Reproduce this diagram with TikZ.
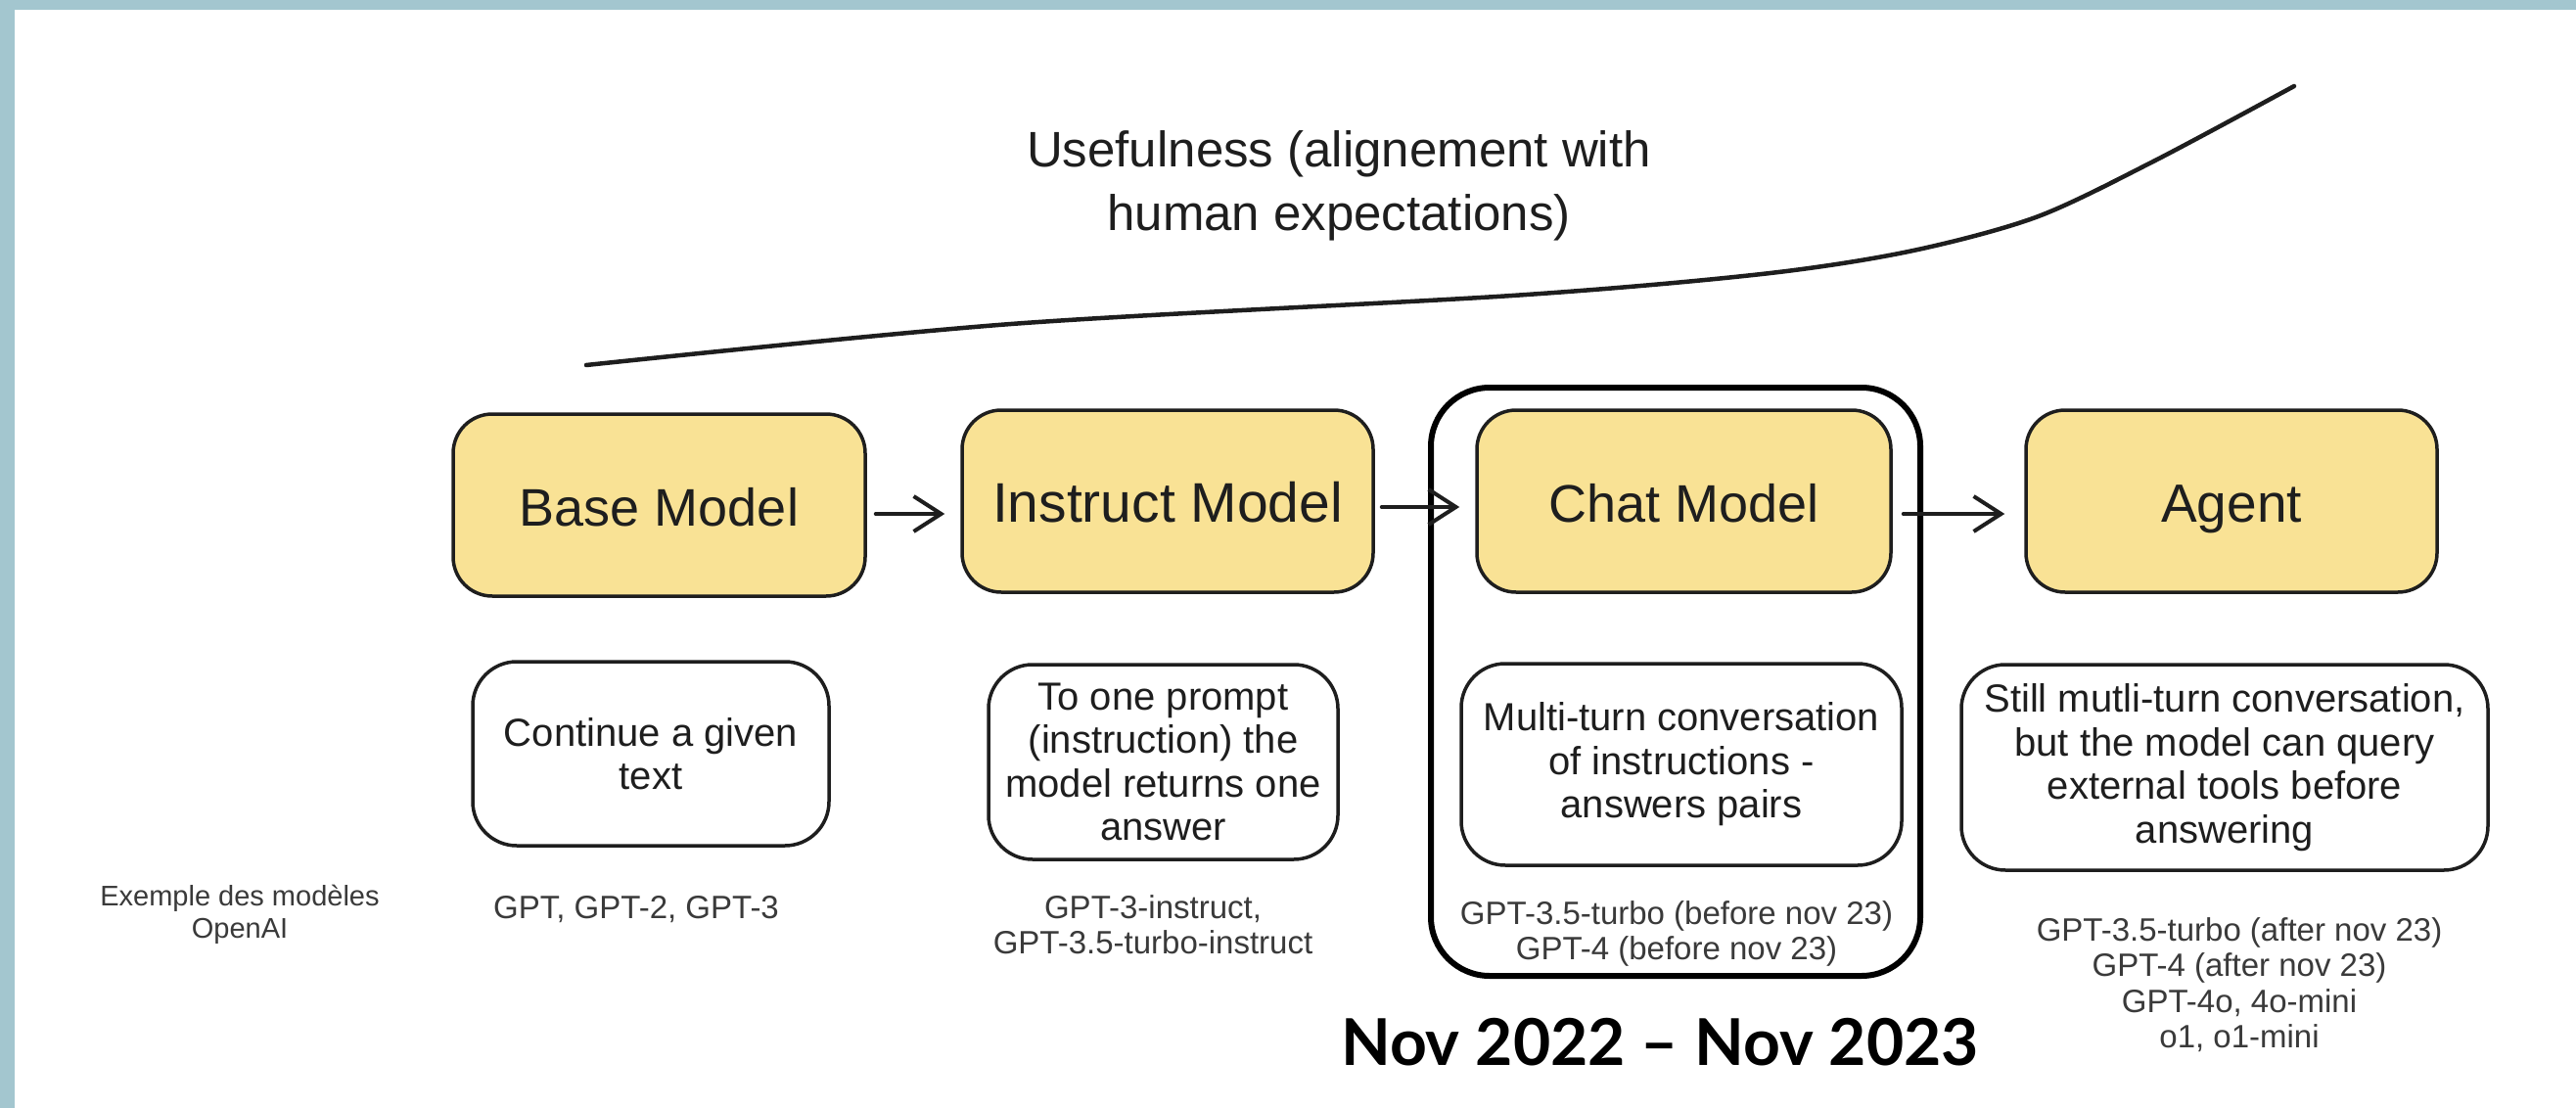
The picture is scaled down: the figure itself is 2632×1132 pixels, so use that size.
\documentclass[tikz,border=0pt]{standalone}
\usepackage{fontspec}
\setmainfont{Liberation Sans}
\newfontfamily\datefont{Lato}
\usetikzlibrary{arrows.meta}
\definecolor{frameblue}{HTML}{A3C6CF}
\definecolor{ink}{HTML}{1E1E1E}
\definecolor{boxyellow}{HTML}{F9E295}
\definecolor{listgray}{HTML}{3A3A3A}
\begin{document}
\begin{tikzpicture}[x=1pt,y=-1pt,
  ybox/.style={draw=ink, line width=3.5pt, fill=boxyellow, rounded corners=40pt,
    minimum width=420pt, minimum height=186pt, inner sep=0pt,
    font=\fontsize{54}{60}\selectfont, text=ink, text height=42pt, text depth=0pt},
  dbox/.style={draw=ink, line width=3.5pt, fill=white, rounded corners=45pt,
    inner sep=0pt, align=center, font=\fontsize{40}{44.5}\selectfont, text=ink},
  listtext/.style={inner sep=0pt, align=center, text=listgray,
    font=\fontsize{33}{36.5}\selectfont},
  smalltext/.style={inner sep=0pt, align=center, text=listgray,
    font=\fontsize{29}{33}\selectfont},
  arr/.style={draw=ink, line width=4pt, line cap=round, line join=round,
    -{Straight Barb[length=28pt,width=36pt,line width=4pt]}},
  groupframe/.style={draw=black, line width=6pt, rounded corners=60pt,
    minimum width=500pt, minimum height=601pt, inner sep=0pt}
]
\useasboundingbox (0,0) rectangle (2632,1132);
\fill[white] (0,0) rectangle (2632,1132);
\fill[frameblue] (0,0) rectangle (2632,10);
\fill[frameblue] (0,0) rectangle (15,1132);

% usefulness curve
\draw[ink, line width=4.5pt, line cap=round]
  plot[smooth, tension=0.5] coordinates {(599,373) (1033,331) (1545,302) (1800,280) (1950,257) (2080,222) (2200,165) (2344,88)};
\node (title) [inner sep=0pt, align=center, text=ink, font=\fontsize{51}{65}\selectfont]
  at (1368,189.5) {Usefulness (alignement with\\human expectations)};

% chat group frame
\node (frame) [groupframe] at (1712,696.5) {};

% model boxes
\node (base)  [ybox, minimum width=421pt] at (673.5,516) {Base Model};
\node (inst)  [ybox, font=\fontsize{57}{60}\selectfont] at (1193,512) {Instruct Model};
\node (chat)  [ybox, minimum width=423pt] at (1720.5,512) {Chat Model};
\node (agent) [ybox, font=\fontsize{55}{60}\selectfont] at (2280,512) {Agent};

% arrows
\draw[arr] ([xshift=9pt,yshift=-9pt]base.east) -- ([xshift=-16pt,yshift=-13pt]inst.west);
\draw[arr] ([xshift=7pt,yshift=-6pt]inst.east) -- ([xshift=-16pt,yshift=-6pt]chat.west);
\draw[arr] ([xshift=11pt,yshift=-13pt]chat.east) -- ([xshift=-20pt,yshift=-13pt]agent.west);

% description boxes
\node (d1) [dbox, minimum width=364pt, minimum height=188pt] at (665,770)
  {Continue a given\\text};
\node (d2) [dbox, minimum width=357pt, minimum height=199pt] at (1188.5,778.5)
  {To one prompt\\(instruction) the\\model returns one\\answer};
\node (d3) [dbox, minimum width=450pt, minimum height=206pt] at (1718,781)
  {Multi-turn conversation\\of instructions -\\answers pairs};
\node (d4) [dbox, minimum width=538pt, minimum height=210pt] at (2273,784)
  {Still mutli-turn conversation,\\but the model can query\\external tools before\\answering};

% model lists
\node (ex) [smalltext, anchor=north] at (245,904) {Exemple des modèles\\OpenAI};
\node (l1) [listtext, anchor=north] at (650,915) {GPT, GPT-2, GPT-3};
\node (l2) [listtext, anchor=north] at (1178,914) {GPT-3-instruct,\\GPT-3.5-turbo-instruct};
\node (l3) [listtext, anchor=north] at (1713,920) {GPT-3.5-turbo (before nov 23)\\GPT-4 (before nov 23)};
\node (l4) [listtext, anchor=north] at (2288,937) {GPT-3.5-turbo (after nov 23)\\GPT-4 (after nov 23)\\GPT-4o, 4o-mini\\o1, o1-mini};

% date
\node (date) [inner sep=0pt, anchor=base, text=black, font=\datefont\bfseries\fontsize{66}{70}\selectfont]
  at (1696,1088) {Nov 2022 – Nov 2023};
\end{tikzpicture}
\end{document}
